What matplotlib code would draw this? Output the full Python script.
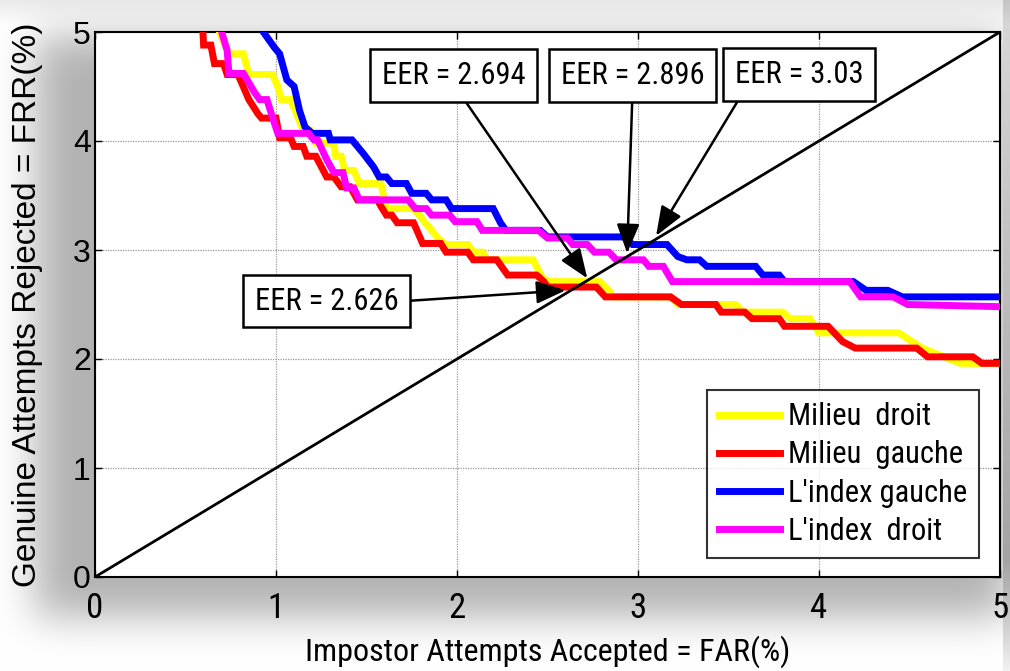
import numpy as np
import matplotlib
matplotlib.use("Agg")
import matplotlib.pyplot as plt
from matplotlib import font_manager as fm

# ---------------- data ----------------
milieu_droit_far = [0.64, 0.70, 0.74, 0.82, 0.85, 0.98, 1.01, 1.03, 1.08, 1.12, 1.15, 1.19, 1.22, 1.32, 1.33,
                    1.36, 1.38, 1.43, 1.46, 1.58, 1.61, 1.76, 1.85, 1.90, 1.94, 2.06, 2.09, 2.14, 2.17, 2.42,
                    2.47, 2.50, 2.79, 2.84, 2.86, 3.18, 3.22, 3.54, 3.58, 3.80, 3.84, 3.95, 4.00, 4.44, 4.57,
                    4.78, 5.00]
milieu_droit_frr = [5.20, 4.95, 4.80, 4.80, 4.61, 4.61, 4.50, 4.38, 4.38, 4.22, 4.10, 4.10, 3.98, 3.98, 3.86,
                    3.86, 3.73, 3.73, 3.61, 3.61, 3.38, 3.38, 3.20, 3.10, 3.05, 3.05, 2.98, 2.98, 2.91, 2.91,
                    2.75, 2.71, 2.71, 2.63, 2.57, 2.57, 2.50, 2.50, 2.43, 2.43, 2.37, 2.37, 2.24, 2.24, 2.10,
                    1.96, 1.96]

milieu_gauche_far = [0.59, 0.60, 0.64, 0.66, 0.71, 0.73, 0.79, 0.85, 0.90, 0.92, 1.00, 1.02, 1.08, 1.10, 1.15,
                     1.17, 1.22, 1.28, 1.32, 1.36, 1.41, 1.45, 1.56, 1.58, 1.61, 1.64, 1.67, 1.76, 1.81, 1.91,
                     1.94, 2.06, 2.09, 2.22, 2.25, 2.28, 2.44, 2.48, 2.50, 2.77, 2.82, 3.18, 3.24, 3.43, 3.46,
                     3.59, 3.63, 3.78, 3.81, 4.05, 4.13, 4.20, 4.54, 4.60, 4.85, 4.90, 5.00]
milieu_gauche_frr = [5.20, 4.88, 4.88, 4.71, 4.71, 4.61, 4.61, 4.38, 4.25, 4.21, 4.21, 4.03, 4.03, 3.95, 3.95,
                     3.86, 3.86, 3.67, 3.67, 3.58, 3.58, 3.46, 3.46, 3.40, 3.32, 3.32, 3.25, 3.25, 3.06, 3.06,
                     2.98, 2.98, 2.91, 2.91, 2.84, 2.77, 2.77, 2.71, 2.66, 2.66, 2.57, 2.57, 2.50, 2.50, 2.43,
                     2.43, 2.37, 2.37, 2.30, 2.30, 2.16, 2.10, 2.10, 2.02, 2.02, 1.96, 1.96]

index_gauche_far = [0.91, 0.93, 0.99, 1.02, 1.06, 1.10, 1.13, 1.16, 1.20, 1.29, 1.30, 1.42, 1.48, 1.54, 1.57,
                    1.61, 1.64, 1.72, 1.75, 1.83, 1.86, 1.94, 1.97, 2.20, 2.24, 2.27, 2.46, 2.50, 2.92, 2.97,
                    3.16, 3.22, 3.27, 3.34, 3.38, 3.65, 3.69, 3.78, 3.81, 4.19, 4.26, 4.38, 4.46, 5.00]
index_gauche_frr = [5.20, 5.00, 4.86, 4.80, 4.56, 4.50, 4.28, 4.13, 4.07, 4.07, 4.01, 4.01, 3.89, 3.76, 3.67,
                    3.67, 3.61, 3.61, 3.52, 3.52, 3.46, 3.46, 3.38, 3.38, 3.25, 3.18, 3.18, 3.12, 3.12, 3.05,
                    3.05, 2.94, 2.91, 2.91, 2.85, 2.85, 2.77, 2.77, 2.71, 2.71, 2.63, 2.63, 2.57, 2.57]

index_droit_far = [0.68, 0.70, 0.73, 0.74, 0.82, 0.88, 0.91, 0.95, 0.98, 1.01, 1.18, 1.21, 1.23, 1.28, 1.32,
                   1.37, 1.39, 1.43, 1.46, 1.73, 1.77, 1.83, 1.86, 1.96, 1.99, 2.11, 2.14, 2.45, 2.50, 2.61,
                   2.64, 2.72, 2.76, 2.84, 2.88, 3.03, 3.06, 3.14, 3.19, 4.17, 4.23, 4.41, 4.49, 5.00]
index_droit_frr = [5.20, 5.00, 4.83, 4.62, 4.62, 4.45, 4.38, 4.38, 4.22, 4.07, 4.07, 4.01, 4.01, 3.83, 3.71,
                   3.71, 3.57, 3.57, 3.46, 3.46, 3.38, 3.38, 3.32, 3.32, 3.26, 3.26, 3.18, 3.18, 3.11, 3.11,
                   3.05, 3.05, 2.98, 2.98, 2.91, 2.91, 2.85, 2.85, 2.71, 2.71, 2.57, 2.57, 2.50, 2.48]

series_labels = ["Milieu  droit", "Milieu  gauche", "L'index gauche", "L'index  droit"]
series_colors = ["#FFFF00", "#FF0000", "#0000FF", "#FF00FF"]

diag_x = [0, 5]
diag_y = [0, 5]

eer_labels = ["EER = 2.694", "EER = 2.896", "EER = 3.03", "EER = 2.626"]
eer_points = [(2.72, 2.74), (2.94, 2.97), (3.10, 3.13), (2.60, 2.63)]
eer_text_pos = [(1.98, 4.60), (2.97, 4.60), (3.89, 4.61), (1.28, 2.53)]
eer_relpos = [(0.53, 0.0), (0.5, 0.0), (0.08, 0.0), (1.0, 0.49)]

ticks = [0, 1, 2, 3, 4, 5]

# ---------------- fonts ----------------
available = set(f.name for f in fm.fontManager.ttflist)
narrow = [f for f in ["Liberation Sans Narrow", "Arial Narrow", "Roboto Condensed", "Archivo Narrow",
                      "PT Sans Narrow", "Liberation Sans"] if f in available][:1] + ["DejaVu Sans"]
regular = ["Liberation Sans", "DejaVu Sans"]

# ---------------- figure ----------------
W, H = 1010, 671
fig = plt.figure(figsize=(W / 100, H / 100), dpi=100)
fig.patch.set_facecolor("white")

# soft drop shadow background
ax_l, ax_r, ax_t, ax_b = 95, 1000, 32, 577
shade = np.zeros((H, W))
shade[ax_t + 4:ax_b + 40, ax_l - 60:ax_r + 8] = 1.0
def blur(a, s):
    k = np.exp(-0.5 * (np.arange(-3 * s, 3 * s + 1) / s) ** 2)
    k /= k.sum()
    a = np.apply_along_axis(lambda r: np.convolve(r, k, mode="same"), 1, a)
    a = np.apply_along_axis(lambda c: np.convolve(c, k, mode="same"), 0, a)
    return a
shade = blur(shade, 20)
gray = 1.0 - 0.30 * shade
img = np.dstack([gray, gray, gray])
img[:, 1003:, :] = np.linspace(0.85, 0.6, H)[:, None, None] * np.ones((1, W - 1003, 3))
fade = np.clip((np.arange(H) - 560) / 110.0, 0, 1)
img[:, 1003:, :] = img[:, 1003:, :] * (1 - fade[:, None, None]) + fade[:, None, None] * 0.95
topband = np.clip(1 - np.arange(H) / 25.0, 0, 1) * 0.08
img = img - topband[:, None, None]
fig.figimage(np.clip(img, 0, 1), xo=0, yo=0, origin="upper", zorder=-10)

ax = fig.add_axes([ax_l / W, 1 - ax_b / H, (ax_r - ax_l) / W, (ax_b - ax_t) / H])
ax.set_zorder(1)
ax.set_facecolor("white")

data = [(milieu_droit_far, milieu_droit_frr), (milieu_gauche_far, milieu_gauche_frr),
        (index_gauche_far, index_gauche_frr), (index_droit_far, index_droit_frr)]
for (xs, ys), lab, col in zip(data, series_labels, series_colors):
    ax.plot(xs, ys, color=col, lw=5, label=lab, solid_joinstyle="miter", zorder=3)

ax.plot(diag_x, diag_y, color="black", lw=2, zorder=4)

for lab, pt, tp, rp in zip(eer_labels, eer_points, eer_text_pos, eer_relpos):
    ax.annotate(lab, xy=pt, xytext=tp, textcoords="data", ha="center", va="center",
                fontsize=22, family=narrow, zorder=6,
                bbox=dict(boxstyle="square,pad=0.38", fc="white", ec="black", lw=1.8),
                arrowprops=dict(arrowstyle="-|>,head_length=0.9,head_width=0.35", color="black",
                                lw=1.8, relpos=rp, shrinkA=0, shrinkB=0, mutation_scale=20))

ax.set_xlim(0, 5)
ax.set_ylim(0, 5)
ax.set_xticks(ticks)
ax.set_yticks(ticks)
ax.grid(True, color="#9a9a9a", lw=0.9, ls=(0, (1, 1)))
ax.set_axisbelow(True)
ax.tick_params(direction="in", length=5, width=1, top=True, right=True, colors="black")
for lbl in ax.get_xticklabels():
    lbl.set_fontfamily(narrow)
    lbl.set_fontsize(25)
for lbl in ax.get_yticklabels():
    lbl.set_fontfamily(regular)
    lbl.set_fontsize(23)
ax.tick_params(axis="x", pad=11)
ax.tick_params(axis="y", pad=3)
for sp in ax.spines.values():
    sp.set_linewidth(1.5)
    sp.set_color("black")

ax.set_xlabel("Impostor Attempts Accepted = FAR(%)", fontsize=23, family=narrow, labelpad=7)
ax.set_ylabel("Genuine Attempts Rejected = FRR(%)", fontsize=24, family=regular)
ax.yaxis.set_label_coords(-0.0575, 0.5)

leg = ax.legend(loc="lower right", bbox_to_anchor=(0.977, 0.035), prop={"family": narrow, "size": 22},
                frameon=True, fancybox=False, edgecolor="black", handlelength=2.0, handletextpad=0.25,
                labelspacing=0.3, borderpad=0.4, borderaxespad=0)
leg.get_frame().set_linewidth(1.5)
leg.set_zorder(7)

fig.savefig("out.png", dpi=100)
